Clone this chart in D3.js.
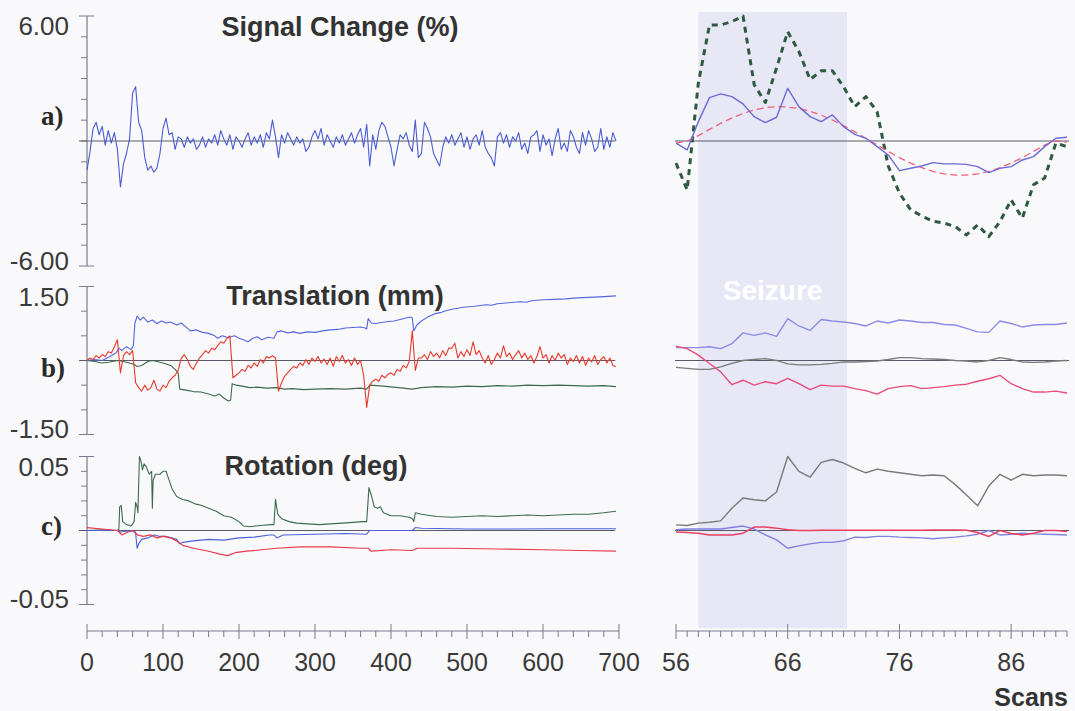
<!DOCTYPE html>
<html>
<head>
<meta charset="utf-8">
<script src="https://cdn.jsdelivr.net/npm/d3@7"></script>
<style>
  body { margin: 0; background: #f9f9fc; }
  svg { display: block; }
  text { font-family: "Liberation Sans", Arial, sans-serif; }
</style>
</head>
<body>
<svg id="chart" width="1075" height="711"></svg>
<script>
// ---------- data ----------
// Full run: values sampled every 4 scans (scan 0 .. 696)
const fullStep = 4;
const signalFull = [
  -1.4,-0.5,0.6,0.9,0.3,0.7,-0.2,0.5,-0.1,0.4,
  -0.4,-2.2,-1.1,-0.6,0.1,2.3,2.6,0.9,0.5,-0.8,
  -1.4,-1.2,-1.5,-1.3,-0.6,0.6,1.1,0.3,0.4,-0.4,
  0.2,0.1,-0.3,0.2,-0.1,0.1,-0.4,-0.2,0.2,-0.3,
  0.1,-0.1,0.3,-0.2,0.5,0.1,-0.2,0.3,-0.4,0.2,
  0.0,-0.3,0.1,0.4,-0.2,0.2,-0.1,0.3,-0.3,0.4,
  0.1,1.0,0.2,-0.8,0.3,-0.1,0.4,0.1,-0.2,0.2,
  -0.1,0.1,-0.5,-0.3,0.2,0.5,0.1,0.6,-0.2,0.3,
  0.0,-0.3,0.2,-0.1,0.3,-0.2,0.1,0.4,-0.1,0.3,
  0.6,-0.3,0.8,-1.2,0.3,-0.4,0.5,0.9,0.7,0.2,
  -0.3,-1.2,-0.4,0.3,0.1,0.4,-0.2,-0.5,1.0,-0.8,
  -0.6,0.9,0.6,0.2,-0.6,-0.9,-1.2,-0.3,0.2,-0.1,
  0.3,-0.2,0.1,0.4,-0.3,0.2,-0.4,0.1,0.3,-0.2,
  0.5,-0.3,-0.6,-0.8,-1.2,0.2,0.4,-0.1,0.3,-0.3,
  0.2,0.0,0.4,-0.4,-0.1,-0.6,0.2,0.3,0.5,-0.5,
  0.3,-0.2,0.1,-0.7,0.1,0.6,-0.4,-0.1,-0.5,0.5,
  0.2,-0.3,-0.6,0.4,-0.2,0.5,0.1,-0.5,-0.3,0.6,
  -0.4,0.2,-0.3,0.4,0.0
];
const transRedFull = [
  0.0,0.05,0.02,0.1,0.05,0.12,0.08,0.18,0.15,0.28,
  0.42,-0.25,0.1,0.18,0.12,0.2,-0.45,-0.55,-0.62,-0.5,
  -0.6,-0.55,-0.4,-0.58,-0.62,-0.5,-0.55,-0.42,-0.35,-0.3,
  -0.2,0.05,0.12,0.02,-0.12,-0.18,-0.05,0.05,0.12,0.2,
  0.15,0.25,0.22,0.3,0.38,0.35,0.45,0.5,-0.35,-0.3,
  -0.25,-0.18,-0.22,-0.1,-0.15,-0.05,-0.12,0.02,-0.05,0.08,
  0.05,0.1,0.05,-0.62,-0.45,-0.32,-0.25,-0.18,-0.12,-0.15,
  -0.05,-0.1,0.02,-0.08,0.05,-0.02,0.08,-0.05,0.03,-0.08,
  0.05,-0.12,0.08,-0.02,0.1,-0.05,0.02,-0.1,0.05,-0.08,
  0.0,-0.3,-0.95,-0.5,-0.42,-0.38,-0.42,-0.3,-0.35,-0.28,
  -0.25,-0.3,-0.18,-0.22,-0.1,-0.15,-0.02,0.6,-0.2,0.05,
  0.05,0.12,0.02,0.18,0.08,0.15,0.05,0.2,0.1,0.25,
  0.25,0.35,0.05,0.18,0.08,0.22,0.1,0.38,0.12,0.2,
  0.05,-0.05,0.1,-0.08,0.02,0.15,0.05,0.3,0.08,0.15,
  0.02,0.12,0.2,0.05,0.15,0.02,0.1,-0.05,0.08,0.28,
  0.05,0.12,-0.05,0.1,0.0,0.15,0.05,0.12,-0.08,0.05,
  -0.02,0.1,-0.05,0.08,-0.1,0.05,-0.03,0.1,-0.08,0.02,
  0.08,-0.05,0.05,-0.1,-0.12
];
// [scan, value] traces
const transBlueFull = [[0,0],[10,0.02],[20,0.0],[30,0.08],[38,0.15],[42,0.25],[46,0.2],[52,0.28],[58,0.22],[61,0.3],
  [63,0.75],[66,0.9],[70,0.82],[74,0.88],[80,0.78],[86,0.82],[92,0.75],[98,0.8],[104,0.76],[110,0.78],[118,0.72],
  [124,0.76],[130,0.68],[136,0.6],[144,0.62],[152,0.57],[160,0.55],[168,0.5],[172,0.45],[178,0.5],[186,0.46],
  [194,0.5],[200,0.45],[206,0.42],[212,0.38],[218,0.45],[224,0.48],[230,0.42],[238,0.47],[246,0.45],[250,0.58],
  [256,0.6],[264,0.56],[272,0.58],[280,0.55],[290,0.58],[300,0.57],[310,0.6],[320,0.62],[330,0.63],[340,0.66],
  [350,0.67],[360,0.68],[366,0.66],[368,0.64],[370,0.85],[374,0.76],[380,0.75],[388,0.77],[396,0.79],[404,0.8],
  [412,0.83],[420,0.86],[426,0.88],[428,0.86],[430,0.6],[434,0.72],[440,0.8],[448,0.88],[458,0.95],[465,0.97],
  [470,1.0],[480,1.04],[488,1.06],[495,1.08],[510,1.1],[525,1.13],[532,1.12],[540,1.15],[555,1.17],[570,1.19],
  [578,1.18],[585,1.21],[600,1.23],[615,1.24],[630,1.25],[645,1.27],[660,1.28],[675,1.29],[696,1.31]];
const transGreenFull = [[0,0],[10,-0.02],[20,-0.05],[30,-0.03],[40,0.0],[48,-0.02],[56,-0.05],[62,-0.08],[66,-0.12],
  [72,-0.1],[80,-0.02],[86,0.0],[92,-0.02],[100,-0.05],[110,-0.1],[116,-0.18],[120,-0.25],[122,-0.58],[130,-0.6],
  [140,-0.63],[150,-0.64],[160,-0.68],[168,-0.72],[174,-0.68],[180,-0.76],[186,-0.82],[189,-0.8],[191,-0.47],
  [196,-0.5],[204,-0.52],[214,-0.55],[224,-0.54],[236,-0.56],[250,-0.55],[260,-0.58],[270,-0.57],[285,-0.59],
  [300,-0.58],[320,-0.57],[340,-0.58],[360,-0.56],[368,-0.58],[372,-0.5],[390,-0.52],[410,-0.55],[428,-0.58],
  [440,-0.55],[460,-0.53],[480,-0.54],[500,-0.52],[520,-0.53],[540,-0.51],[560,-0.52],[580,-0.5],[600,-0.51],
  [620,-0.5],[640,-0.51],[660,-0.52],[680,-0.51],[696,-0.53]];
const rotGreenFull = [[0,0.0],[20,0.0005],[40,0.0],[42,0.001],[43,0.016],[45,0.017],[47,0.006],[52,0.004],[58,0.003],
  [62,0.006],[64,0.019],[66,0.016],[67,0.012],[69,0.05],[71,0.047],[73,0.041],[75,0.045],[78,0.043],[82,0.038],
  [85,0.04],[86,0.015],[87,0.034],[90,0.038],[96,0.038],[100,0.04],[104,0.04],[108,0.034],[112,0.028],[118,0.023],
  [126,0.021],[134,0.02],[142,0.018],[150,0.017],[160,0.015],[170,0.013],[180,0.01],[190,0.009],[200,0.006],
  [206,0.003],[214,0.0025],[222,0.003],[232,0.0035],[242,0.004],[246,0.004],[248,0.021],[251,0.011],[256,0.008],
  [266,0.006],[276,0.005],[290,0.0045],[306,0.004],[320,0.0045],[336,0.005],[350,0.0055],[362,0.006],[368,0.006],
  [371,0.029],[374,0.024],[378,0.016],[382,0.015],[386,0.016],[390,0.012],[400,0.01],[412,0.01],[424,0.009],
  [428,0.008],[430,0.006],[432,0.012],[440,0.011],[460,0.0095],[480,0.009],[500,0.0095],[520,0.01],[540,0.0095],
  [560,0.01],[580,0.0105],[600,0.01],[620,0.0105],[640,0.011],[660,0.011],[680,0.012],[696,0.013]];
const rotBlueFull = [[0,0.0],[40,0.0],[44,-0.001],[60,0.0],[64,-0.002],[66,-0.012],[68,-0.009],[72,-0.006],[80,-0.005],
  [88,-0.003],[96,-0.004],[104,-0.004],[112,-0.005],[118,-0.006],[122,-0.009],[126,-0.008],[140,-0.007],[160,-0.006],
  [180,-0.0065],[200,-0.005],[220,-0.0045],[240,-0.003],[246,-0.003],[250,-0.005],[258,-0.003],[300,-0.0025],
  [340,-0.002],[368,-0.0025],[372,0.0],[400,0.0],[428,0.0],[432,0.002],[440,0.0015],[500,0.001],[560,0.001],
  [620,0.0012],[696,0.0012]];
const rotRedFull = [[0,0.002],[20,0.001],[40,0.0],[46,-0.003],[54,-0.001],[62,0.0],[66,-0.003],[74,-0.004],[84,-0.003],
  [92,-0.005],[100,-0.004],[110,-0.005],[118,-0.007],[126,-0.01],[140,-0.012],[160,-0.014],[175,-0.016],[185,-0.017],
  [195,-0.015],[210,-0.014],[230,-0.013],[250,-0.012],[280,-0.011],[320,-0.011],[360,-0.012],[370,-0.012],
  [374,-0.014],[400,-0.013],[428,-0.0135],[434,-0.012],[480,-0.012],[540,-0.0125],[600,-0.013],[650,-0.0135],
  [696,-0.014]];

// Close-up: scans 56 .. 91, one value per scan
const zoomFirstScan = 56;
const zoomSignal = [-0.1,-0.43,0.93,2.08,2.26,2.13,1.78,1.17,0.88,1.14,2.53,1.65,1.17,0.93,1.25,0.69,0.32,0.13,
  -0.27,-0.67,-1.42,-1.31,-1.2,-1.04,-1.1,-1.1,-1.12,-1.23,-1.52,-1.31,-1.23,-0.91,-0.75,-0.27,0.13,0.18];
const zoomFit = [-0.1,0.0,0.26,0.56,0.85,1.11,1.32,1.49,1.6,1.65,1.63,1.56,1.43,1.24,1.01,0.74,0.44,0.13,
  -0.19,-0.5,-0.8,-1.06,-1.28,-1.46,-1.58,-1.64,-1.64,-1.58,-1.46,-1.28,-1.06,-0.8,-0.5,-0.19,0.0,-0.05];
const zoomComponent = [-1.06,-2.35,2.78,5.57,5.57,5.73,6.0,2.7,1.85,3.5,5.25,4.3,2.95,3.37,3.37,2.6,1.65,2.13,
  1.41,-1.2,-2.5,-3.3,-3.6,-3.85,-3.94,-4.11,-4.51,-4.03,-4.59,-3.87,-2.83,-3.7,-2.1,-1.78,-0.1,-0.27];
const zoomTransBlue = [0.26,0.26,0.26,0.28,0.24,0.34,0.56,0.51,0.56,0.49,0.85,0.7,0.61,0.83,0.8,0.78,0.75,0.7,
  0.8,0.76,0.82,0.8,0.77,0.77,0.73,0.72,0.65,0.58,0.57,0.8,0.75,0.68,0.72,0.73,0.73,0.76];
const zoomTransRed = [0.29,0.24,0.11,-0.06,-0.23,-0.49,-0.4,-0.5,-0.43,-0.47,-0.36,-0.47,-0.59,-0.5,-0.52,-0.52,
  -0.57,-0.61,-0.68,-0.57,-0.53,-0.51,-0.57,-0.55,-0.53,-0.5,-0.48,-0.42,-0.37,-0.3,-0.47,-0.57,-0.64,-0.64,-0.62,-0.66];
const zoomTransGray = [-0.14,-0.16,-0.18,-0.18,-0.13,-0.06,0.0,0.02,0.04,0.0,-0.07,-0.09,-0.09,-0.08,-0.06,-0.03,
  -0.03,-0.02,-0.01,0.02,0.06,0.06,0.04,0.03,0.02,0.0,-0.01,-0.03,0.0,0.06,0.02,-0.03,-0.04,-0.03,-0.01,0.0];
const zoomRotGray = [0.0038,0.0034,0.005,0.0056,0.0065,0.015,0.022,0.0208,0.02,0.026,0.05,0.04,0.036,0.046,0.048,
  0.0456,0.042,0.039,0.0415,0.04,0.039,0.038,0.037,0.0375,0.037,0.031,0.024,0.0167,0.03,0.038,0.034,0.038,0.037,
  0.0375,0.0375,0.037];
const zoomRotBlue = [0.0005,0.001,0.001,0.001,0.001,0.002,0.003,0.001,-0.003,-0.0063,-0.012,-0.0104,-0.009,-0.008,
  -0.008,-0.007,-0.0045,-0.0047,-0.004,-0.004,-0.0045,-0.0047,-0.005,-0.0056,-0.005,-0.0045,-0.0036,-0.0025,0.0,
  -0.003,-0.0025,-0.0018,-0.0023,-0.0025,-0.0027,-0.003];
const zoomRotRed = [-0.001,-0.0013,-0.0018,-0.003,-0.003,-0.003,-0.0018,0.0023,0.0023,0.0016,0.0005,0,0,0.0001,
  0.0001,0.0001,0.0001,0.0001,0.0001,0.0001,0.0001,0.0002,0.0002,0.0003,0.0003,0.0003,0.0001,-0.0013,-0.004,0,
  -0.002,-0.003,-0.0018,0,0,-0.0007];

const seizureScans = [58, 71.3];
const fullTicks = [0, 100, 200, 300, 400, 500, 600, 700];
const zoomTicks = [56, 66, 76, 86];
const signalTickLabels = ["6.00", "-6.00"];
const translationTickLabels = ["1.50", "-1.50"];
const rotationTickLabels = ["0.05", "-0.05"];

// ---------- layout ----------
const svg = d3.select("#chart");
svg.append("rect").attr("width", 1075).attr("height", 711).attr("fill", "#f9f9fc");

const xL = d3.scaleLinear().domain([0, 700]).range([87, 619]);
const xR = d3.scaleLinear().domain([56, 91]).range([676, 1067]);
const yA = d3.scaleLinear().domain([-6, 6]).range([266, 16]);
const yB = d3.scaleLinear().domain([-1.5, 1.5]).range([434.5, 286.5]);
const yC = d3.scaleLinear().domain([-0.05, 0.05]).range([604.5, 456.5]);
const axisY = 631;
const axisColor = "#7a7a8e";

// seizure period band
svg.append("rect")
  .attr("x", xR(seizureScans[0])).attr("y", 12)
  .attr("width", xR(seizureScans[1]) - xR(seizureScans[0])).attr("height", 616)
  .attr("fill", "#e7e7f6");
svg.append("text")
  .attr("x", (xR(seizureScans[0]) + xR(seizureScans[1])) / 2).attr("y", 300)
  .attr("text-anchor", "middle").attr("font-size", 28).attr("font-weight", "bold")
  .attr("fill", "#ffffff").text("Seizure");

const panels = [
  { y: yA, ticks: yA.ticks(12), labels: signalTickLabels, title: "Signal Change (%)", tx: 340, ty: 36, tag: "a)", tagY: 125 },
  { y: yB, ticks: yB.ticks(6), labels: translationTickLabels, title: "Translation (mm)", tx: 335, ty: 305, tag: "b)", tagY: 377 },
  { y: yC, ticks: yC.ticks(10), labels: rotationTickLabels, title: "Rotation (deg)", tx: 316, ty: 475, tag: "c)", tagY: 535 }
];

panels.forEach(p => {
  const [lo, hi] = p.y.domain();
  const ax = xL(0);
  svg.append("line").attr("x1", ax).attr("x2", ax).attr("y1", p.y(hi)).attr("y2", p.y(lo))
    .attr("stroke", axisColor).attr("stroke-width", 1.2);
  p.ticks.forEach(v => {
    const end = Math.abs(v - hi) < 1e-9 || Math.abs(v - lo) < 1e-9;
    svg.append("line")
      .attr("x1", end ? ax - 8 : ax - 6).attr("x2", end ? ax + 7 : ax)
      .attr("y1", p.y(v)).attr("y2", p.y(v))
      .attr("stroke", axisColor).attr("stroke-width", 1);
  });
  svg.append("text").attr("x", 69).attr("y", p.y(hi) + 19).attr("text-anchor", "end")
    .attr("font-size", 26).attr("fill", "#3a3a3a").text(p.labels[0]);
  svg.append("text").attr("x", 69).attr("y", p.y(lo) + 3.5).attr("text-anchor", "end")
    .attr("font-size", 26).attr("fill", "#3a3a3a").text(p.labels[1]);
  svg.append("text").attr("x", p.tx).attr("y", p.ty).attr("text-anchor", "middle")
    .attr("font-size", 27).attr("font-weight", "bold").attr("fill", "#333").text(p.title);
  svg.append("text").attr("x", 41).attr("y", p.tagY)
    .style("font-family", "'Liberation Serif', 'Times New Roman', serif")
    .attr("font-size", 27).attr("font-weight", "bold").attr("fill", "#2a2a2a").text(p.tag);
  // zero reference lines
  svg.append("line").attr("x1", ax - 8).attr("x2", xL(695)).attr("y1", p.y(0)).attr("y2", p.y(0))
    .attr("stroke", "#5a5a66").attr("stroke-width", 1.1);
  svg.append("line").attr("x1", xR(56) - 1).attr("x2", xR(91) + 2).attr("y1", p.y(0)).attr("y2", p.y(0))
    .attr("stroke", "#5a5a66").attr("stroke-width", 1.1);
});

// x axes
function xAxis(scale, majors, minorStep) {
  const [d0, d1] = scale.domain();
  svg.append("line").attr("x1", scale(d0)).attr("x2", scale(d1)).attr("y1", axisY).attr("y2", axisY)
    .attr("stroke", axisColor).attr("stroke-width", 1.2);
  d3.range(d0, d1 + 1e-9, minorStep).forEach(v => {
    const major = majors.includes(v);
    svg.append("line").attr("x1", scale(v)).attr("x2", scale(v))
      .attr("y1", major ? axisY - 7 : axisY).attr("y2", major ? axisY + 8 : axisY + 6)
      .attr("stroke", axisColor).attr("stroke-width", 1);
  });
  majors.forEach(v => {
    svg.append("text").attr("x", scale(v)).attr("y", 671).attr("text-anchor", "middle")
      .attr("font-size", 25).attr("fill", "#3a3a3a").text(v);
  });
}
xAxis(xL, fullTicks, 20);
xAxis(xR, zoomTicks, 1);
svg.append("text").attr("x", 1068).attr("y", 706).attr("text-anchor", "end")
  .attr("font-size", 25).attr("font-weight", "bold").attr("fill", "#333").text("Scans");

// ---------- traces ----------
function drawPairs(pairs, x, y, color, width, dash) {
  const line = d3.line().x(d => x(d[0])).y(d => y(d[1]));
  const path = svg.append("path").datum(pairs).attr("d", line).attr("fill", "none")
    .attr("stroke", color).attr("stroke-width", width).attr("stroke-linejoin", "round");
  if (dash) path.attr("stroke-dasharray", dash);
  return path;
}
const stepped = arr => arr.map((v, i) => [i * fullStep, v]);
const perScan = arr => arr.map((v, i) => [zoomFirstScan + i, v]);

// full run
drawPairs(stepped(signalFull), xL, yA, "#4a5cd4", 1.1);
drawPairs(transGreenFull, xL, yB, "#3d6a4e", 1.1);
drawPairs(transBlueFull, xL, yB, "#5466e0", 1.1);
drawPairs(stepped(transRedFull), xL, yB, "#e8392a", 1.1);
drawPairs(rotGreenFull, xL, yC, "#3d6a4e", 1.1);
drawPairs(rotBlueFull, xL, yC, "#4d60da", 1.1);
drawPairs(rotRedFull, xL, yC, "#e83a48", 1.2);

// close-up around the seizure
drawPairs(perScan(zoomComponent), xR, yA, "#2f5a40", 3, "6,5");
drawPairs(perScan(zoomFit), xR, yA, "#f0607e", 1.3, "7,4");
drawPairs(perScan(zoomSignal), xR, yA, "#6b6bd6", 1.4);
drawPairs(perScan(zoomTransGray), xR, yB, "#7a7a7a", 1.3);
drawPairs(perScan(zoomTransBlue), xR, yB, "#8c8ce8", 1.4);
drawPairs(perScan(zoomTransRed), xR, yB, "#ea4c7a", 1.4);
drawPairs(perScan(zoomRotGray), xR, yC, "#7a7a7a", 1.4);
drawPairs(perScan(zoomRotBlue), xR, yC, "#8080e2", 1.4);
drawPairs(perScan(zoomRotRed), xR, yC, "#ea4060", 1.5);
</script>
</body>
</html>
